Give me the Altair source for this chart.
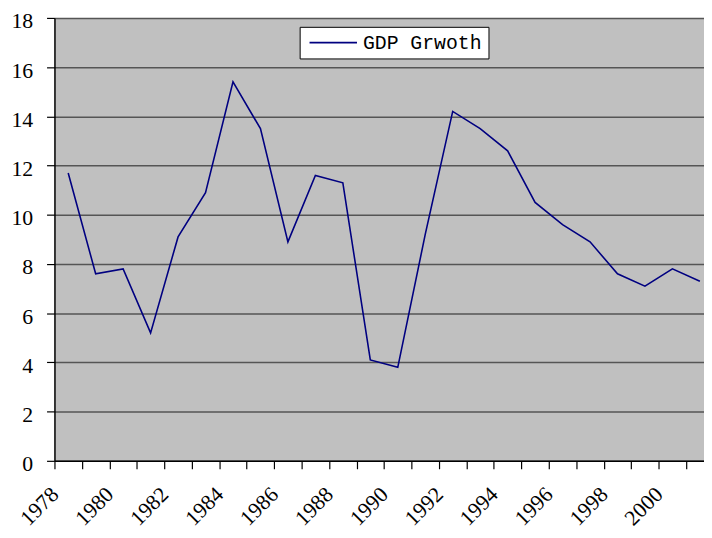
import altair as alt
import pandas as pd

years = list(range(1978, 2002))
gdp = [11.7, 7.6, 7.8, 5.2, 9.1, 10.9, 15.4, 13.5, 8.9, 11.6, 11.3, 4.1,
       3.8, 9.2, 14.2, 13.5, 12.6, 10.5, 9.6, 8.9, 7.6, 7.1, 7.8, 7.3]
series = ["GDP Grwoth"] * len(years)
y_ticks = [0, 2, 4, 6, 8, 10, 12, 14, 16, 18]

df = pd.DataFrame({"year": years, "gdp": gdp, "series": series})
tick_vals = [y - 0.5 for y in years]

SERIF = "Liberation Serif"
MONO = "Liberation Mono"

chart = alt.Chart(df).mark_line(strokeWidth=1.6, clip=True).encode(
    x=alt.X("year:Q",
            scale=alt.Scale(domain=[1977.5, 2001.15], nice=False, zero=False),
            axis=alt.Axis(values=tick_vals,
                          labelExpr="(datum.value - 1977.5) % 2 == 0 ? format(datum.value + 0.5, 'd') : ''",
                          labelAngle=-45, labelAlign="right", labelBaseline="middle",
                          labelPadding=22, tickSize=8, tickColor="black", tickWidth=1.2,
                          domainColor="black", domainWidth=1.5, grid=False, title=None,
                          labelFont=SERIF, labelFontSize=22, labelColor="black",
                          labelOverlap=False, labelFlush=False)),
    y=alt.Y("gdp:Q",
            scale=alt.Scale(domain=[0, 18], nice=False),
            axis=alt.Axis(values=y_ticks, grid=True, gridColor="#555555", gridWidth=1.5,
                          tickSize=8, tickColor="black", tickWidth=1.2,
                          domainColor="black", domainWidth=1.5, title=None,
                          labelPadding=14, labelOffset=3, labelFont=SERIF, labelFontSize=22,
                          labelColor="black")),
    color=alt.Color("series:N", scale=alt.Scale(range=["#000080"]),
                    legend=alt.Legend(orient="none", legendX=248, legendY=9, title=None,
                                      fillColor="white", strokeColor="black", padding=6,
                                      symbolType="M-4,0L4,0", symbolSize=144,
                                      symbolOffset=18, symbolStrokeWidth=1.6,
                                      labelFont=MONO, labelFontSize=20,
                                      labelColor="black", labelOffset=20)),
).properties(
    width=657, height=448,
    autosize=alt.AutoSizeParams(type="none"),
    padding={"left": 47, "top": 7, "right": 0, "bottom": 73},
).configure(font=SERIF).configure_view(fill="#C0C0C0", stroke=None)

chart.save("out.html", embed_options={"renderer": "svg", "actions": False})
